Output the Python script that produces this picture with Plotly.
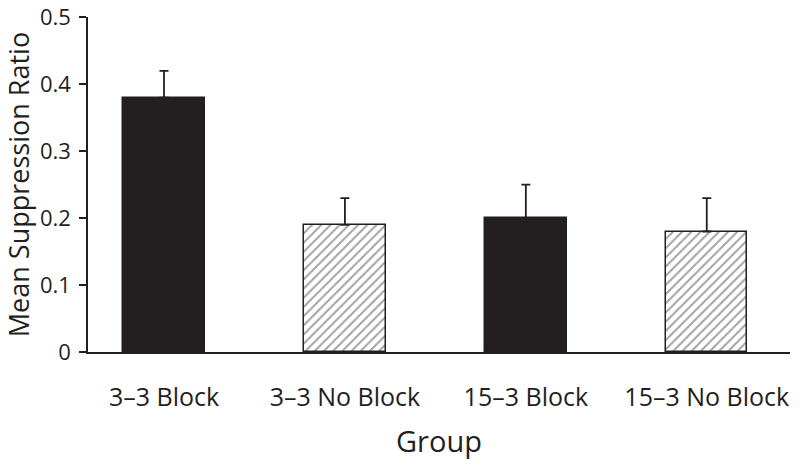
import plotly.graph_objects as go

groups = ["3–3 Block", "3–3 No Block", "15–3 Block", "15–3 No Block"]
means = [0.38, 0.19, 0.20, 0.18]
errors = [0.04, 0.04, 0.05, 0.05]
hatched = [False, True, False, True]

x_pos = list(range(len(groups)))

fig = go.Figure()
fig.add_trace(go.Bar(
    x=x_pos,
    y=means,
    width=0.45,
    marker=dict(
        color=["#231f20" if not h else "white" for h in hatched],
        line=dict(color="#231f20", width=1.5),
        pattern=dict(
            shape=["/" if h else "" for h in hatched],
            fgcolor="#231f20",
            bgcolor="white",
            size=6.5,
            solidity=0.3,
        ),
    ),
    error_y=dict(
        type="data",
        symmetric=False,
        array=errors,
        arrayminus=[0] * len(errors),
        color="#231f20",
        thickness=1.8,
        width=4.5,
    ),
    showlegend=False,
))

font_family = "Open Sans, Lato, sans-serif"
fig.update_layout(
    width=800,
    height=468,
    margin=dict(l=88, r=10, t=17, b=116),
    paper_bgcolor="white",
    plot_bgcolor="white",
    font=dict(family=font_family, size=20, color="#231f20"),
    bargap=0,
)
fig.update_xaxes(
    range=[-0.42, 3.46],
    tickvals=x_pos,
    ticktext=groups,
    showline=True,
    linecolor="#231f20",
    linewidth=1.5,
    ticks="",
    ticklabelstandoff=22,
    showgrid=False,
    zeroline=False,
    automargin=False,
    tickfont=dict(size=25),
    title=dict(text="Group", font=dict(size=29), standoff=20),
)
fig.update_yaxes(
    range=[0, 0.5005],
    tickvals=[0, 0.1, 0.2, 0.3, 0.4, 0.5],
    ticktext=["0", "0.1", "0.2", "0.3", "0.4", "0.5"],
    showline=True,
    linecolor="#231f20",
    linewidth=1.5,
    ticks="outside",
    ticklen=7,
    tickwidth=1.5,
    tickcolor="#231f20",
    ticklabelstandoff=4,
    ticklabeloverflow="allow",
    showgrid=False,
    zeroline=False,
    automargin=False,
    tickfont=dict(size=22),
    title=dict(text="Mean Suppression Ratio", font=dict(size=27), standoff=14),
)

fig.write_html(
    "out.html",
    config={"displayModeBar": False},
    post_script="document.body.style.margin='0';",
)
